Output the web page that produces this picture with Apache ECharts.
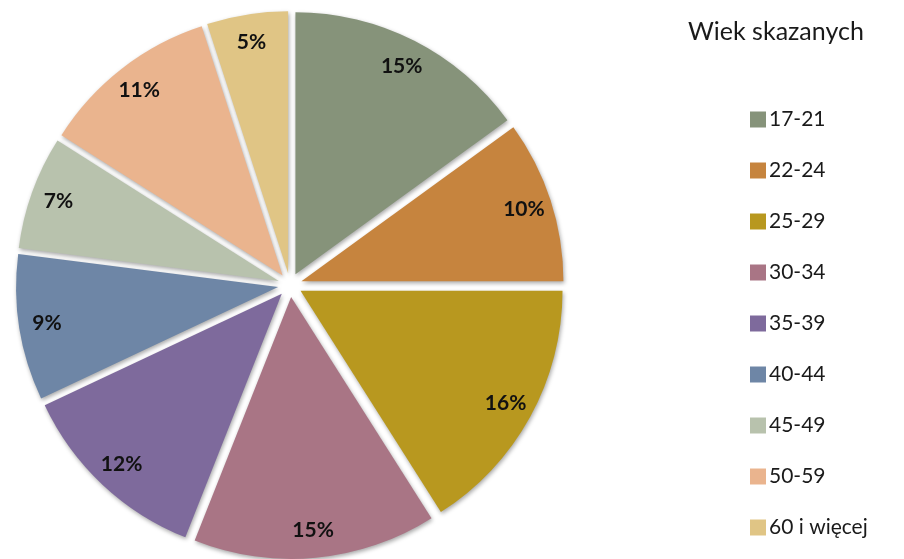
<!DOCTYPE html>
<html>
<head>
<meta charset="utf-8">
<script src="https://cdn.jsdelivr.net/npm/echarts@6/dist/echarts.min.js"></script>
<style>
  html, body { margin: 0; padding: 0; background: #fff; }
  #chart { width: 904px; height: 559px; }
</style>
</head>
<body>
<div id="chart"></div>
<script>
const categories = ["17-21", "22-24", "25-29", "30-34", "35-39", "40-44", "45-49", "50-59", "60 i więcej"];
const shares = [15, 10, 16, 15, 12, 9, 7, 11, 5];
const colors = ["#86937a", "#c6843e", "#b8981f", "#a97585", "#7e6a9c", "#6e86a6", "#b8c2ad", "#eab48e", "#e0c585"];

const chart = echarts.init(document.getElementById("chart"));

const slices = categories.map((name, i) => ({
  name: name,
  value: shares[i],
  selected: true,
  itemStyle: { color: colors[i] }
}));

// ring used only to place the percentage labels near the outer edge
const labelRing = categories.map((name, i) => ({
  name: name,
  value: shares[i],
  selected: true
}));

chart.setOption({
  animation: false,
  title: {
    text: "Wiek skazanych",
    left: 683,
    top: 14,
    textStyle: { fontFamily: "Lato", fontWeight: "normal", fontSize: 25, color: "#1a1a1a" }
  },
  legend: {
    orient: "vertical",
    left: 745,
    top: 104,
    height: 445,
    itemWidth: 16,
    itemHeight: 16,
    itemGap: 30,
    icon: "rect",
    selectedMode: false,
    data: categories,
    textStyle: { fontFamily: "Lato", fontSize: 21, lineHeight: 20, color: "#1a1a1a", padding: [0, 0, 0, -2] }
  },
  series: [
    {
      type: "pie",
      center: [290, 285],
      radius: [0, 262],
      startAngle: 90,
      clockwise: true,
      selectedMode: "multiple",
      selectedOffset: 12,
      label: { show: false },
      labelLine: { show: false },
      emphasis: { disabled: true },
      itemStyle: {
        shadowBlur: 4,
        shadowColor: "rgba(0,0,0,0.35)",
        shadowOffsetX: 1,
        shadowOffsetY: 2
      },
      data: slices
    },
    {
      type: "pie",
      center: [290, 285],
      radius: [200, 262],
      startAngle: 90,
      clockwise: true,
      selectedMode: "multiple",
      selectedOffset: 12,
      silent: true,
      legendHoverLink: false,
      itemStyle: { color: "rgba(0,0,0,0)" },
      label: {
        show: true,
        position: "inside",
        formatter: "{c}%",
        fontFamily: "Lato",
        fontWeight: "bold",
        fontSize: 21,
        color: "#111"
      },
      labelLine: { show: false },
      emphasis: { disabled: true },
      data: labelRing
    }
  ]
});
</script>
</body>
</html>
